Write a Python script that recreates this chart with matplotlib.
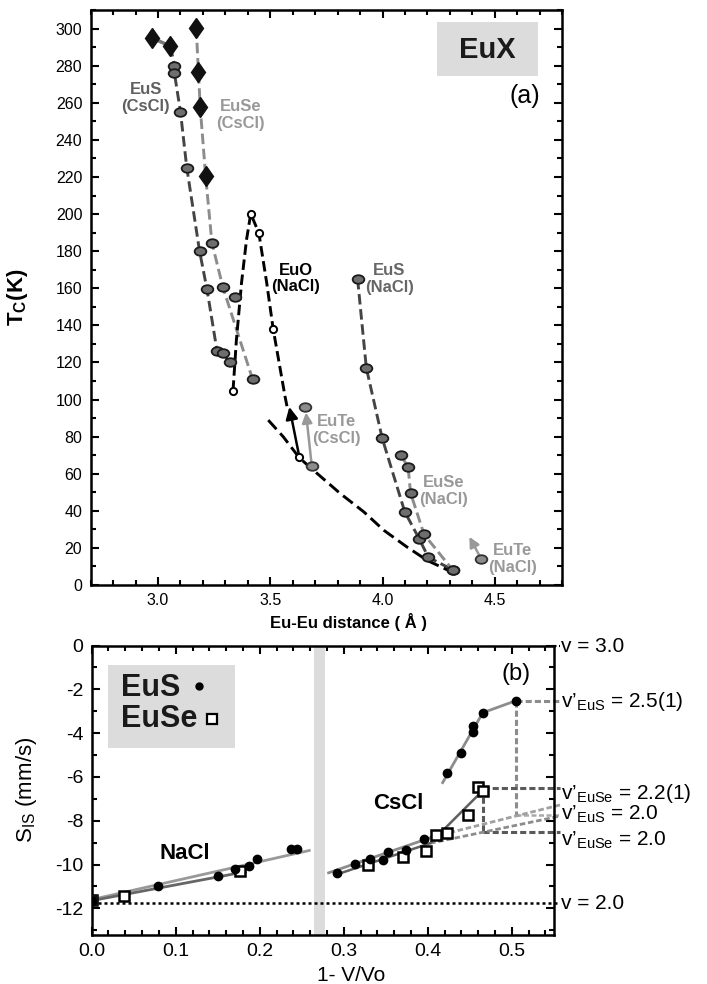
import matplotlib
matplotlib.use('Agg')
import matplotlib.pyplot as plt
from matplotlib.markers import MarkerStyle
from matplotlib.transforms import Affine2D
from matplotlib.ticker import MultipleLocator
from matplotlib.patches import Rectangle

plt.rcParams['font.family'] = ['Liberation Sans', 'DejaVu Sans']
plt.rcParams['mathtext.fontset'] = 'custom'
plt.rcParams['mathtext.rm'] = 'Liberation Sans'
plt.rcParams['mathtext.bf'] = 'Liberation Sans:bold'
plt.rcParams['mathtext.it'] = 'Liberation Sans:italic'
plt.rcParams['axes.unicode_minus'] = False

#### Panel (a): Tc vs Eu-Eu distance ####
# CsCl phase, diamonds
eus_dia_d = [2.973, 3.055]
eus_dia_t = [295.0, 290.5]
euse_dia_d = [3.170, 3.180, 3.188, 3.212]
euse_dia_t = [300.5, 276.5, 257.5, 220.5]
# CsCl phase, circles
eus_cscl_d = [3.073, 3.073, 3.100, 3.128, 3.185, 3.218, 3.263, 3.289, 3.319]
eus_cscl_t = [280.0, 276.0, 255.0, 225.0, 180.0, 159.5, 126.0, 125.0, 120.0]
euse_cscl_d = [3.240, 3.289, 3.421]
euse_cscl_t = [184.5, 160.5, 111.0]
extra_d = [3.342]
extra_t = [155.5]
# EuO (NaCl), open circles, and the hand drawn guide through them
euo_d = [3.334, 3.413, 3.449, 3.513, 3.630]
euo_t = [104.7, 200.2, 189.8, 138.0, 68.8]
euo_guide_d = [3.334, 3.349, 3.372, 3.394, 3.413, 3.449, 3.484, 3.513, 3.566, 3.575]
euo_guide_t = [104.7, 132.0, 163.0, 186.0, 200.2, 189.8, 163.0, 138.0, 101.5, 96.0]
# NaCl phase
eus_nacl_d = [3.889, 3.928, 3.999, 4.099, 4.163, 4.204, 4.312]
eus_nacl_t = [165.0, 117.0, 79.0, 39.5, 25.0, 15.0, 8.2]
euse_nacl_d = [4.081, 4.114, 4.125, 4.185, 4.312]
euse_nacl_t = [70.0, 63.7, 49.6, 27.3, 8.2]
eute_cscl_d = [3.654, 3.685]
eute_cscl_t = [95.8, 64.1]
eute_nacl_d = [4.439]
eute_nacl_t = [14.2]
# long dashed guide curve
guide_d = [3.491, 3.558, 3.630, 3.692, 3.812, 3.917, 4.006, 4.110, 4.200, 4.342]
guide_t = [88.9, 79.9, 68.5, 61.9, 49.3, 39.4, 29.5, 20.4, 13.2, 5.1]

#### Panel (b): isomer shift vs 1-V/Vo ####
nacl_eus_x = [0.0, 0.0793, 0.1507, 0.1706, 0.1877, 0.1964, 0.2375, 0.2440]
nacl_eus_y = [-11.65, -10.97, -10.52, -10.22, -10.05, -9.76, -9.27, -9.27]
nacl_euse_x = [0.0, 0.0388, 0.1766]
nacl_euse_y = [-11.62, -11.44, -10.28]
cscl_eus_x = [0.2917, 0.3135, 0.3313, 0.3472, 0.3532, 0.3742, 0.3956,
              0.4233, 0.4393, 0.4543, 0.4543, 0.4655, 0.5050]
cscl_eus_y = [-10.40, -9.99, -9.75, -9.79, -9.41, -9.34, -8.85,
              -5.84, -4.92, -3.66, -3.97, -3.07, -2.52]
cscl_euse_x = [0.3286, 0.3710, 0.3980, 0.4095, 0.4226, 0.4476, 0.4603, 0.4663]
cscl_euse_y = [-10.02, -9.67, -9.37, -8.65, -8.55, -7.74, -6.45, -6.63]

# fitted lines (end points)
fit_nacl_eus = ([0.0, 0.259], [-11.60, -9.36])
fit_nacl_euse = ([0.0, 0.183], [-11.65, -10.33])
fit_cscl_eus_lo = ([0.282, 0.4067], [-10.38, -8.73])
fit_cscl_eus_hi = ([0.4178, 0.4655, 0.5050], [-6.26, -3.07, -2.52])
fit_cscl_euse = ([0.2897, 0.4028, 0.4682], [-10.48, -9.03, -6.52])
extrap_eus = ([0.4067, 0.5575], [-8.73, -7.28])
extrap_euse = ([0.4028, 0.5575], [-9.03, -7.79])

v_labels = ['v = 3.0', 'v’$_{\\mathrm{EuS}}$ = 2.5(1)', 'v’$_{\\mathrm{EuSe}}$ = 2.2(1)',
            'v’$_{\\mathrm{EuS}}$ = 2.0', 'v’$_{\\mathrm{EuSe}}$ = 2.0', 'v = 2.0']
v_label_y = [-0.05, -2.56, -6.75, -7.71, -8.88, -11.77]


def style_axes(a, size):
    for s in a.spines.values():
        s.set_linewidth(1.8)
    a.tick_params(which='both', direction='in', top=True, right=True,
                  width=1.5, labelsize=size, pad=6)
    a.tick_params(which='major', length=6)
    a.tick_params(which='minor', length=3.5)


fig = plt.figure(figsize=(7.07, 9.84), dpi=100)

#### top panel ####
ax = fig.add_axes([0.1283, 0.4055, 0.6667, 0.5843])
ax.set_xlim(2.7, 4.8)
ax.set_ylim(0, 310)
ax.xaxis.set_major_locator(MultipleLocator(0.5))
ax.xaxis.set_minor_locator(MultipleLocator(0.1))
ax.yaxis.set_major_locator(MultipleLocator(20))
ax.yaxis.set_minor_locator(MultipleLocator(10))
style_axes(ax, 11.5)

ell = MarkerStyle('o', transform=Affine2D().scale(1.2, 0.88))
dia = MarkerStyle('D', transform=Affine2D().scale(0.68, 1.0))
gray_pt = dict(marker=ell, ms=7, mfc='#6e6e6e', mec='#1a1a1a', mew=1.3, ls='none', zorder=5)
light_pt = dict(marker=ell, ms=7, mfc='#8c8c8c', mec='#333333', mew=1.3, ls='none', zorder=5)
open_pt = dict(marker='o', ms=5.2, mfc='white', mec='black', mew=1.4, ls='none', zorder=5)

# dashed guide lines
dsh = (3.6, 1.6)
ax.plot(eus_dia_d, eus_dia_t, color='#777777', lw=2.5)
ax.plot(eus_dia_d[1:] + eus_cscl_d, eus_dia_t[1:] + eus_cscl_t,
        color='#444444', lw=2.1, dashes=dsh)
ax.plot(euse_dia_d + euse_cscl_d, euse_dia_t + euse_cscl_t,
        color='#8c8c8c', lw=2.1, dashes=dsh)
ax.plot(euo_guide_d, euo_guide_t, color='black', lw=2.1, dashes=dsh)
ax.plot(eus_nacl_d, eus_nacl_t, color='#444444', lw=2.1, dashes=dsh)
ax.plot(euse_nacl_d, euse_nacl_t, color='#8c8c8c', lw=2.1, dashes=dsh)
ax.plot(guide_d, guide_t, color='black', lw=2.1, dashes=(4.2, 1.9))

# arrows
ax.annotate('', xy=(3.585, 96.0), xytext=(euo_d[-1], euo_t[-1]),
            arrowprops=dict(arrowstyle='-|>', color='black', lw=1.8,
                            mutation_scale=18, shrinkA=3, shrinkB=0))
ax.annotate('', xy=(3.659, 93.0), xytext=(eute_cscl_d[1], eute_cscl_t[1]),
            arrowprops=dict(arrowstyle='-|>', color='#999999', lw=1.8,
                            mutation_scale=15, shrinkA=3, shrinkB=0))
ax.annotate('', xy=(4.387, 26.0), xytext=(eute_nacl_d[0], eute_nacl_t[0]),
            arrowprops=dict(arrowstyle='-|>', color='#999999', lw=1.8,
                            mutation_scale=15, shrinkA=3, shrinkB=0))

# markers
ax.plot(eus_dia_d, eus_dia_t, marker=dia, ms=10, color='#111111', ls='none', zorder=6)
ax.plot(euse_dia_d, euse_dia_t, marker=dia, ms=10, color='#111111', ls='none', zorder=6)
ax.plot(eus_cscl_d, eus_cscl_t, **gray_pt)
ax.plot(euse_cscl_d, euse_cscl_t, **gray_pt)
ax.plot(extra_d, extra_t, **gray_pt)
ax.plot(euo_d, euo_t, **open_pt)
ax.plot(eus_nacl_d, eus_nacl_t, **gray_pt)
ax.plot(euse_nacl_d, euse_nacl_t, **gray_pt)
ax.plot(eute_cscl_d, eute_cscl_t, **light_pt)
ax.plot(eute_nacl_d, eute_nacl_t, **light_pt)

# labels
lab = dict(fontsize=12, fontweight='bold', ha='center', va='center', linespacing=1.15)
ax.text(2.946, 262.4, 'EuS\n(CsCl)', color='#5f5f5f', **lab)
ax.text(3.369, 253.2, 'EuSe\n(CsCl)', color='#999999', **lab)
ax.text(3.613, 165.2, 'EuO\n(NaCl)', color='black', **lab)
ax.text(4.031, 165.1, 'EuS\n(NaCl)', color='#666666', **lab)
ax.text(3.797, 83.7, 'EuTe\n(CsCl)', color='#999999', **lab)
ax.text(4.274, 50.5, 'EuSe\n(NaCl)', color='#999999', **lab)
ax.text(4.581, 13.8, 'EuTe\n(NaCl)', color='#999999', **lab)

ax.add_patch(Rectangle((4.242, 274.2), 0.451, 29.2, facecolor='#dcdcdc',
                       edgecolor='none', zorder=1))
ax.text(4.466, 288.6, 'EuX', fontsize=21, fontweight='bold', ha='center',
        va='center', color='#1a1a1a', zorder=2)
ax.text(4.633, 263.7, '(a)', fontsize=18, ha='center', va='center')

ax.set_ylabel(r'T$_{\mathbf{C}}$(K)', fontsize=16, fontweight='bold')
ax.yaxis.set_label_coords(-0.129, 0.5)
ax.text(0.546, -0.064, 'Eu-Eu distance ( Å )', transform=ax.transAxes,
        fontsize=12, fontweight='bold', ha='center', va='center')

#### bottom panel ####
bx = fig.add_axes([0.1297, 0.0502, 0.6535, 0.2938])
bx.set_xlim(0, 0.55)
bx.set_ylim(-13.2, 0)
bx.xaxis.set_major_locator(MultipleLocator(0.1))
bx.xaxis.set_minor_locator(MultipleLocator(0.02))
bx.yaxis.set_major_locator(MultipleLocator(2))
bx.yaxis.set_minor_locator(MultipleLocator(1))
style_axes(bx, 14)

bx.axvspan(0.265, 0.278, color='#dcdcdc', lw=0, zorder=0)

# reference lines for v = 2 and v = 3
bx.plot([0, 0.5575], [-11.75, -11.75], color='black', lw=1.8, ls=(0, (1.2, 1.2)), clip_on=False)
bx.plot([0.55, 0.5575], [0, 0], color='black', lw=1.5, ls=(0, (1.2, 1.2)), clip_on=False)

# guide lines to the v' labels
dk = dict(color='#5a5a5a', lw=2.2, dashes=(2, 1), clip_on=False)
lt = dict(color='#8c8c8c', lw=2.2, dashes=(2, 1), clip_on=False)
bx.plot([cscl_eus_x[-1], 0.5575], [cscl_eus_y[-1], cscl_eus_y[-1]], **lt)
bx.plot([cscl_eus_x[-1], cscl_eus_x[-1]], [cscl_eus_y[-1], -7.74], **lt)
bx.plot([cscl_eus_x[-1], 0.5575], [-7.74, -7.74], color='#aaaaaa', lw=1.8,
        dashes=(2, 1), clip_on=False)
bx.plot([0.4663, 0.5575], [-6.52, -6.52], **dk)
bx.plot([0.4663, 0.4663], [-6.52, -8.53], **dk)
bx.plot([0.4663, 0.5575], [-8.53, -8.53], **dk)
bx.plot(*extrap_eus, color='#a0a0a0', lw=2, dashes=(2, 1), clip_on=False)
bx.plot(*extrap_euse, color='#8c8c8c', lw=2, dashes=(2, 1), clip_on=False)

# fits
bx.plot(*fit_nacl_eus, color='#999999', lw=2)
bx.plot(*fit_nacl_euse, color='#666666', lw=2)
bx.plot(*fit_cscl_eus_lo, color='#8c8c8c', lw=2)
bx.plot(*fit_cscl_eus_hi, color='#8c8c8c', lw=2)
bx.plot(*fit_cscl_euse, color='#5f5f5f', lw=1.8)

# data points
sq = dict(marker='s', ms=7, mfc='white', mec='black', mew=1.8, ls='none', zorder=5)
dot = dict(marker='o', ms=6, color='black', ls='none', zorder=6)
bx.plot(nacl_euse_x, nacl_euse_y, **sq)
bx.plot(cscl_euse_x, cscl_euse_y, **sq)
bx.plot(nacl_euse_x[:1], nacl_euse_y[:1], marker='s', ms=7, color='#111111', ls='none', zorder=6)
bx.plot(nacl_eus_x, nacl_eus_y, **dot)
bx.plot(cscl_eus_x, cscl_eus_y, **dot)

# legend box
bx.add_patch(Rectangle((0.020, -4.68), 0.151, 3.8, facecolor='#dcdcdc',
                       edgecolor='none', zorder=1))
bx.text(0.035, -1.93, 'EuS', fontsize=22, fontweight='bold', va='center',
        color='#1a1a1a', zorder=2)
bx.text(0.035, -3.35, 'EuSe', fontsize=22, fontweight='bold', va='center',
        color='#1a1a1a', zorder=2)
bx.plot([0.1277], [-1.85], marker='o', ms=5, color='black', zorder=3)
bx.plot([0.143], [-3.35], marker='s', ms=6.5, mfc='white', mec='black', mew=1.6, zorder=3)

bx.text(0.505, -1.29, '(b)', fontsize=17, ha='center', va='center')
bx.text(0.365, -7.21, 'CsCl', fontsize=16, fontweight='bold', ha='center', va='center')
bx.text(0.111, -9.49, 'NaCl', fontsize=16, fontweight='bold', ha='center', va='center')

for txt, yy in zip(v_labels, v_label_y):
    bx.text(0.5585, yy, txt, fontsize=15, ha='left', va='center', clip_on=False)

bx.set_ylabel(r'S$_{\mathrm{IS}}$ (mm/s)', fontsize=16)
bx.yaxis.set_label_coords(-0.114, 0.5)
bx.text(0.562, -0.14, '1- V/Vo', transform=bx.transAxes, fontsize=15,
        ha='center', va='center')

fig.savefig('out.png', dpi=100)
